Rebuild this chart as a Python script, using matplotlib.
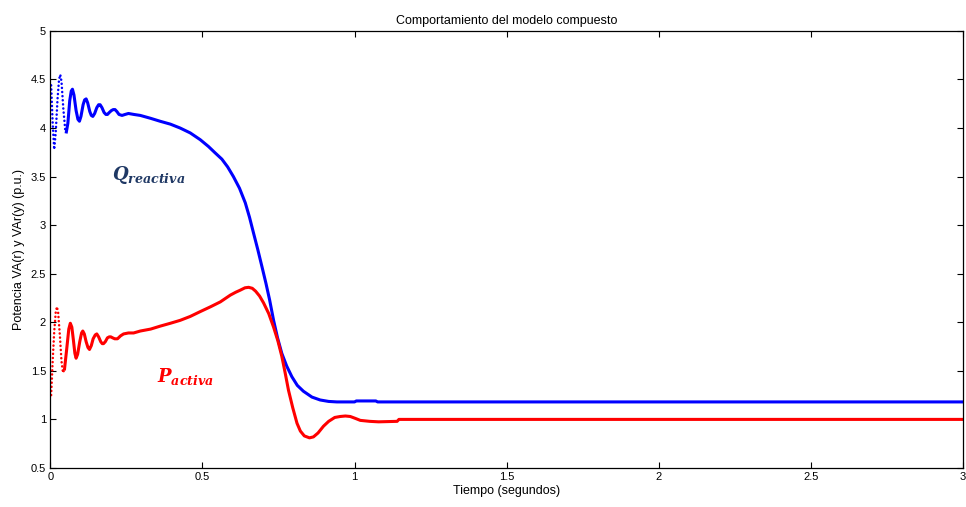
import numpy as np
import matplotlib.pyplot as plt

plt.rcParams["font.family"] = ["Liberation Sans", "DejaVu Sans"]
plt.rcParams["mathtext.fontset"] = "custom"
plt.rcParams["mathtext.it"] = "DejaVu Serif:italic:bold"
plt.rcParams["mathtext.rm"] = "DejaVu Serif:bold"

# Potencia reactiva Q (p.u.)
t_q = [0.003, 0.008, 0.013, 0.018, 0.024, 0.029, 0.033, 0.037, 0.043, 0.049,
       0.053, 0.058, 0.064, 0.069, 0.073, 0.078, 0.085, 0.091, 0.096, 0.101,
       0.108, 0.113, 0.118, 0.123, 0.130, 0.135, 0.140, 0.146, 0.153, 0.159,
       0.164, 0.170, 0.177, 0.183, 0.188, 0.194, 0.201, 0.207, 0.213, 0.219,
       0.226, 0.236, 0.246, 0.257, 0.275, 0.296, 0.330, 0.361, 0.395, 0.427,
       0.460, 0.493, 0.520, 0.540, 0.564, 0.583, 0.602, 0.622, 0.641, 0.655,
       0.668, 0.682, 0.696, 0.709, 0.721, 0.734, 0.747, 0.761, 0.777, 0.794,
       0.812, 0.832, 0.860, 0.887, 0.915, 0.942, 1.000, 1.006, 1.070, 1.076,
       3.0]
q = [4.44, 4.05, 3.78, 3.95, 4.30, 4.50, 4.55, 4.48, 4.20, 3.99,
     3.96, 4.05, 4.28, 4.38, 4.40, 4.34, 4.18, 4.09, 4.07, 4.12,
     4.24, 4.29, 4.30, 4.26, 4.17, 4.13, 4.12, 4.15, 4.21, 4.24,
     4.24, 4.21, 4.16, 4.14, 4.14, 4.16, 4.18, 4.19, 4.19, 4.17,
     4.14, 4.13, 4.14, 4.15, 4.14, 4.13, 4.10, 4.07, 4.04, 4.00,
     3.95, 3.88, 3.81, 3.75, 3.68, 3.60, 3.50, 3.38, 3.23, 3.08,
     2.92, 2.75, 2.57, 2.40, 2.23, 2.02, 1.84, 1.68, 1.55, 1.44,
     1.35, 1.29, 1.23, 1.20, 1.185, 1.18, 1.18, 1.19, 1.19, 1.18,
     1.18]

# Potencia activa P (p.u.)
t_p = [0.003, 0.008, 0.013, 0.018, 0.022, 0.026, 0.032, 0.037, 0.042, 0.047,
       0.054, 0.061, 0.066, 0.071, 0.076, 0.081, 0.085, 0.090, 0.097, 0.103,
       0.107, 0.112, 0.118, 0.124, 0.129, 0.135, 0.141, 0.148, 0.153, 0.159,
       0.166, 0.171, 0.175, 0.181, 0.188, 0.194, 0.199, 0.205, 0.212, 0.221,
       0.231, 0.241, 0.257, 0.274, 0.296, 0.330, 0.361, 0.395, 0.427, 0.460,
       0.493, 0.527, 0.559, 0.592, 0.610, 0.624, 0.640, 0.652, 0.664, 0.675,
       0.688, 0.701, 0.718, 0.734, 0.748, 0.761, 0.772, 0.783, 0.797, 0.811,
       0.822, 0.835, 0.852, 0.865, 0.880, 0.898, 0.915, 0.935, 0.953, 0.970,
       0.986, 1.003, 1.019, 1.050, 1.079, 1.140, 1.146, 3.0]
p = [1.25, 1.60, 1.90, 2.10, 2.16, 2.10, 1.85, 1.60, 1.48, 1.52,
     1.72, 1.93, 1.99, 1.95, 1.82, 1.68, 1.63, 1.67, 1.80, 1.89,
     1.91, 1.88, 1.80, 1.74, 1.72, 1.76, 1.83, 1.87, 1.88, 1.85,
     1.80, 1.78, 1.78, 1.80, 1.84, 1.85, 1.85, 1.84, 1.83, 1.83,
     1.86, 1.88, 1.89, 1.89, 1.91, 1.93, 1.96, 1.99, 2.02, 2.06,
     2.11, 2.16, 2.21, 2.28, 2.31, 2.33, 2.355, 2.36, 2.35, 2.32,
     2.27, 2.20, 2.09, 1.95, 1.81, 1.65, 1.48, 1.30, 1.12, 0.96,
     0.88, 0.83, 0.81, 0.82, 0.86, 0.93, 0.98, 1.02, 1.03, 1.035,
     1.03, 1.01, 0.99, 0.98, 0.975, 0.98, 1.00, 1.00]

x_ticks = [0, 0.5, 1, 1.5, 2, 2.5, 3]
y_ticks = [0.5, 1, 1.5, 2, 2.5, 3, 3.5, 4, 4.5, 5]

fig = plt.figure(figsize=(9.66, 5.07), dpi=100)
ax = fig.add_axes([0.052, 0.077, 0.945, 0.862])

# the fast initial swing is drawn as round dots, the rest solid
cut_q, cut_p = 11, 10
dots = (0, (0.05, 1.6))
ax.plot(t_q[:cut_q], q[:cut_q], color="#0000ff", lw=1.8, ls=dots,
        dash_capstyle="round")
ax.plot(t_q[cut_q - 1:], q[cut_q - 1:], color="#0000ff", lw=2.2)
ax.plot(t_p[:cut_p], p[:cut_p], color="#ff0000", lw=1.8, ls=dots,
        dash_capstyle="round")
ax.plot(t_p[cut_p - 1:], p[cut_p - 1:], color="#ff0000", lw=2.2)

ax.text(0.204, 3.47, r"$Q_{reactiva}$", color="#1f3864", fontsize=13)
ax.text(0.352, 1.39, r"$P_{activa}$", color="#ff0000", fontsize=13)

ax.set_xlim(0, 3)
ax.set_ylim(0.5, 5)
ax.set_xticks(x_ticks)
ax.set_xticklabels([f"{v:g}" for v in x_ticks])
ax.set_yticks(y_ticks)
ax.set_yticklabels([f"{v:g}" for v in y_ticks])
ax.tick_params(direction="in", top=True, right=True, labelsize=8, length=4, pad=3)
for s in ax.spines.values():
    s.set_linewidth(0.9)

ax.set_title("Comportamiento del modelo compuesto", fontsize=9, pad=5)
ax.set_xlabel("Tiempo (segundos)", fontsize=9, labelpad=2)
ax.set_ylabel("Potencia VA(r) y VAr(y) (p.u.)", fontsize=9, labelpad=4)

fig.savefig("out.png", dpi=100)
